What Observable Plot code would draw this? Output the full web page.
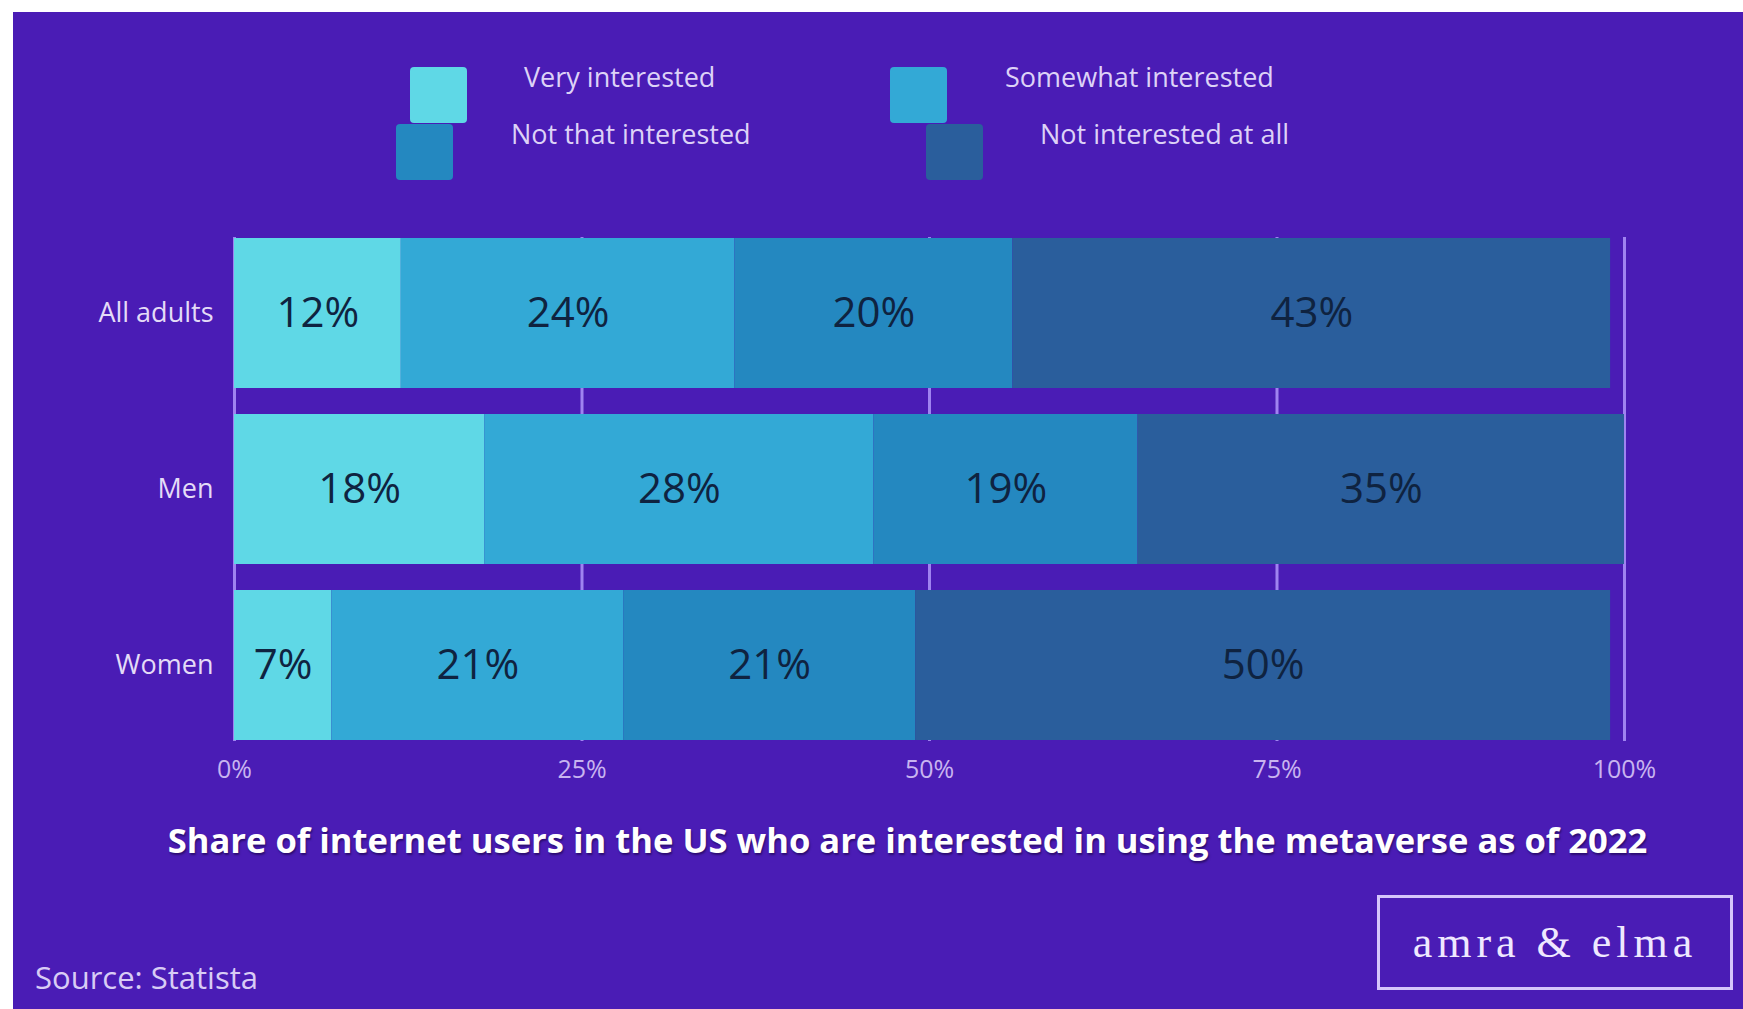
<!DOCTYPE html>
<html>
<head>
<meta charset="utf-8">
<script src="https://cdn.jsdelivr.net/npm/d3@7"></script>
<script src="https://cdn.jsdelivr.net/npm/@observablehq/plot@0.6"></script>
<style>
  html, body { margin: 0; padding: 0; width: 1743px; height: 1009px; overflow: hidden; background: #ffffff; }
  #frame { position: absolute; left: 13px; top: 12px; width: 1730px; height: 997px; background: #4a1cb5; }
  #chart { position: absolute; left: 0; top: 198px; }
  .leg-sq { position: absolute; width: 57px; height: 56px; border-radius: 4px; }
  .leg-tx { position: absolute; font-family: "Open Sans", sans-serif; font-size: 27px; color: #ddd2f7; line-height: 32px; white-space: nowrap; }
  #title { position: absolute; left: 0; width: 1743px; top: 819px; text-align: center; transform: translateX(36px);
           font-family: "Open Sans", sans-serif; font-weight: 700; font-size: 34.6px; color: #ffffff; line-height: 42px;
           text-shadow: 1px 2px 2px rgba(20,0,60,0.55); white-space: nowrap; }
  #source { position: absolute; left: 35px; top: 958px; font-family: "Open Sans", sans-serif; font-size: 31px; color: #d8ccf5; line-height: 38px; }
  #logo { position: absolute; left: 1377px; top: 895px; width: 350px; height: 89px; border: 3px solid #d5c5fb;
          display: flex; align-items: center; justify-content: center; font-family: "Liberation Serif", "DejaVu Serif", serif;
          font-size: 44px; letter-spacing: 5px; color: #efe8ff; }
</style>
</head>
<body>
<div id="frame"></div>
<div id="legend"></div>
<div id="chart"></div>
<div id="title">Share of internet users in the US who are interested in using the metaverse as of 2022</div>
<div id="source">Source: Statista</div>
<div id="logo">amra &amp; elma</div>
<script>
// ---- data ----
const groups = ["All adults", "Men", "Women"];
const categories = ["Very interested", "Somewhat interested", "Not that interested", "Not interested at all"];
const veryInterested = [12, 18, 7];
const somewhatInterested = [24, 28, 21];
const notThatInterested = [20, 19, 21];
const notInterestedAtAll = [43, 35, 50];
const xTicks = [0, 25, 50, 75, 100];

const colors = ["#5fd8e6", "#33a9d6", "#2488c0", "#2a5e9c"];

const series = [veryInterested, somewhatInterested, notThatInterested, notInterestedAtAll];
const rows = [];
groups.forEach((g, i) => {
  categories.forEach((c, j) => rows.push({group: g, category: c, value: series[j][i]}));
});

// ---- legend (HTML) ----
const legend = document.getElementById("legend");
const legendLayout = [
  {sq: [410, 67], tx: [524, 61]},
  {sq: [890, 67], tx: [1005, 61]},
  {sq: [396, 124], tx: [511, 118]},
  {sq: [926, 124], tx: [1040, 118]}
];
categories.forEach((c, j) => {
  const L = legendLayout[j];
  const sq = document.createElement("div");
  sq.className = "leg-sq";
  sq.style.left = L.sq[0] + "px"; sq.style.top = L.sq[1] + "px";
  sq.style.background = colors[j];
  legend.appendChild(sq);
  const tx = document.createElement("div");
  tx.className = "leg-tx";
  tx.style.left = L.tx[0] + "px"; tx.style.top = L.tx[1] + "px";
  tx.textContent = c;
  legend.appendChild(tx);
});

// ---- chart ----
const chart = Plot.plot({
  width: 1743,
  height: 603,
  marginLeft: 234,
  marginRight: 119,
  marginTop: 39,
  marginBottom: 60,
  style: {background: "transparent", fontFamily: "Open Sans, sans-serif", overflow: "visible"},
  x: {domain: [0, 100]},
  y: {domain: groups, paddingInner: 0.145, paddingOuter: 0},
  color: {domain: categories, range: colors},
  marks: [
    Plot.gridX(xTicks, {stroke: "#9f83f0", strokeOpacity: 1, strokeWidth: 3}),
    Plot.barX(rows, {x: "value", y: "group", fill: "category", order: categories}),
    Plot.text(rows, Plot.stackX({x: "value", y: "group", z: "category", order: categories,
      text: d => d.value + "%", fill: "#0f2340", fontSize: 42})),
    Plot.axisX({ticks: xTicks, tickFormat: d => d + "%", tickSize: 0, tickPadding: 19, fontSize: 25, color: "#c8b4f0", label: null}),
    Plot.axisY({tickSize: 0, tickPadding: 21, fontSize: 27, color: "#e4dbf7", label: null})
  ]
});
document.getElementById("chart").appendChild(chart);
</script>
</body>
</html>
